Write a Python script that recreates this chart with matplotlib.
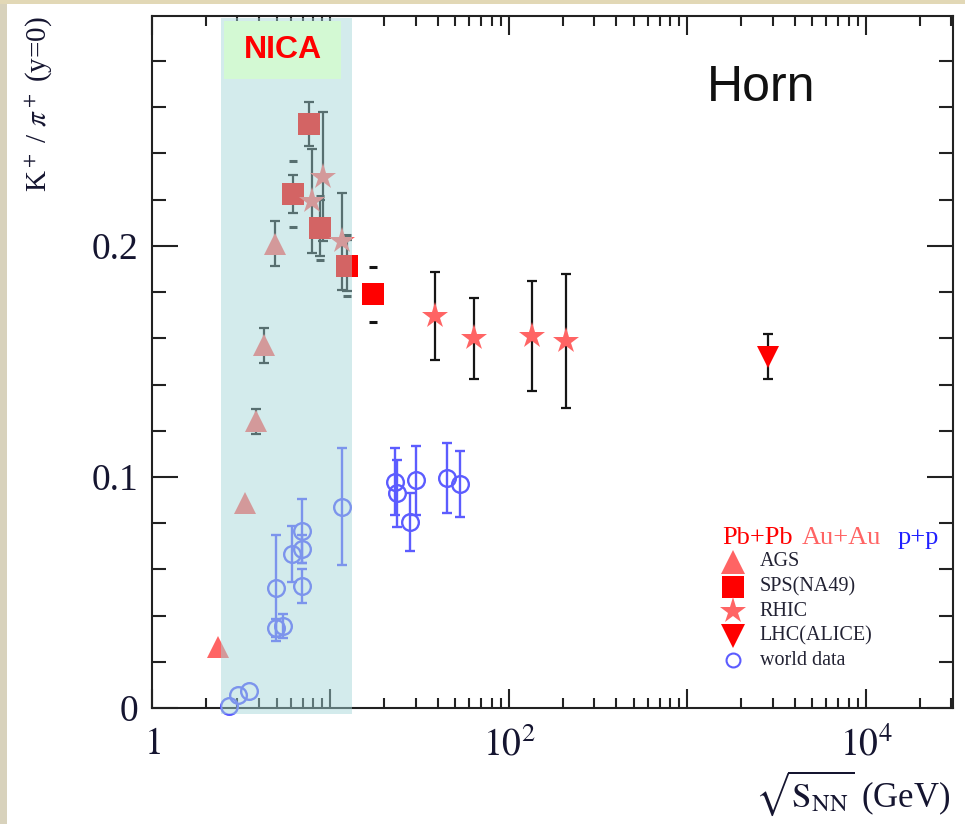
import numpy as np
import matplotlib
matplotlib.use("Agg")
import matplotlib.pyplot as plt
from matplotlib.patches import Rectangle
from matplotlib.ticker import LogLocator, MultipleLocator, FuncFormatter

plt.rcParams['font.family'] = 'serif'
plt.rcParams['font.serif'] = ['Liberation Serif', 'DejaVu Serif']
plt.rcParams['mathtext.fontset'] = 'stix'

# ---------------------------------------------------------------------------
# data: sqrt(s_NN) [GeV], K+/pi+ ratio, errors
# ---------------------------------------------------------------------------
ags_x = [2.34, 3.32, 3.83, 4.24, 4.89]
ags_y = [0.0264, 0.0887, 0.124, 0.157, 0.201]
ags_err = [0.0, 0.0, 0.0055, 0.0075, 0.0097]

sps_x = [6.19, 7.61, 8.73, 12.3, 17.4]
sps_y = [0.2224, 0.2527, 0.2077, 0.1915, 0.179]
sps_err = [0.0082, 0.0095, 0.012, 0.011, 0.0]
sps_sys = [0.0144, 0.0, 0.014, 0.013, 0.012]

rhic_x = [7.85, 9.04, 11.55, 38.5, 63.7, 134.6, 208.0]
rhic_y = [0.2195, 0.230, 0.2019, 0.1697, 0.160, 0.161, 0.159]
rhic_err = [0.0225, 0.028, 0.021, 0.019, 0.0175, 0.0236, 0.029]

lhc_x = [2825.0]
lhc_y = [0.152]
lhc_err = [0.0097]

pp_x = [2.70, 3.03, 3.49, 4.95, 4.95, 5.42, 6.09, 6.92, 6.92, 6.92,
        11.6, 23.0, 23.6, 27.9, 30.1, 45.0, 53.1]
pp_y = [0.001, 0.0056, 0.0074, 0.052, 0.0346, 0.0355, 0.0667, 0.0766,
        0.0688, 0.0528, 0.0872, 0.098, 0.093, 0.0805, 0.0985, 0.0996, 0.097]
pp_err = [0.0, 0.0, 0.0, 0.023, 0.004, 0.005, 0.012, 0.014, 0.006, 0.0073,
          0.0253, 0.0145, 0.0145, 0.0125, 0.015, 0.0152, 0.0143]

nica_range = [2.436, 13.14]   # GeV, shaded NICA energy range

legend_labels = ['AGS', 'SPS(NA49)', 'RHIC', 'LHC(ALICE)', 'world data']

RED = '#ff0000'
SALMON = '#ff6464'
BLUE = '#5c5cff'
BAR = '#151515'
TXT = '#151530'


def bars(ax, x, y, err, color, lw=1.6, cap=3.5):
    x, y, err = np.asarray(x), np.asarray(y), np.asarray(err)
    m = err > 0
    ax.errorbar(x[m], y[m], yerr=err[m], fmt='none', ecolor=color,
                elinewidth=lw, capsize=cap, capthick=lw, zorder=2)


fig = plt.figure(figsize=(9.65, 8.24), dpi=100)
# slide background strips
fig.patches.append(Rectangle((0, 0), 0.0075, 1, transform=fig.transFigure,
                             facecolor='#d8d2bc', lw=0, zorder=0))
fig.patches.append(Rectangle((0, 0.995), 1, 0.005, transform=fig.transFigure,
                             facecolor='#e2d8b6', lw=0, zorder=0))
ax = fig.add_axes([0.1575, 0.1408, 0.8300, 0.8398])

# error bars
bars(ax, ags_x, ags_y, ags_err, BAR)
bars(ax, sps_x, sps_y, sps_err, BAR)
bars(ax, rhic_x, rhic_y, rhic_err, BAR)
bars(ax, lhc_x, lhc_y, lhc_err, BAR)
bars(ax, pp_x, pp_y, pp_err, BLUE, lw=1.7)
# systematic brackets (caps only)
sx, sy, ss = np.asarray(sps_x), np.asarray(sps_y), np.asarray(sps_sys)
ms_ = ss > 0
ax.errorbar(sx[ms_], sy[ms_], yerr=ss[ms_], fmt='none', ecolor=BAR,
            elinewidth=0, capsize=3, capthick=2.2, zorder=2)

# markers
ax.plot(ags_x, ags_y, '^', color=SALMON, ms=16, mew=0, zorder=3, clip_on=False)
ax.plot(sps_x, sps_y, 's', color=RED, ms=16, mew=0, zorder=3)
ax.plot(rhic_x, rhic_y, '*', color=SALMON, ms=20, mew=0, zorder=3)
ax.plot(lhc_x, lhc_y, 'v', color=RED, ms=16, mew=0, zorder=3)
ax.plot(pp_x, pp_y, 'o', mfc='none', mec=BLUE, ms=12, mew=1.7, zorder=3,
        clip_on=False)

# axes
ax.set_xscale('log')
ax.set_xlim(1, 3.07e4)
ax.set_ylim(0, 0.2995)
ax.xaxis.set_major_locator(LogLocator(base=10, numticks=10))
ax.xaxis.set_minor_locator(LogLocator(base=10, subs=np.arange(2, 10), numticks=100))
ax.xaxis.set_major_formatter(FuncFormatter(
    lambda v, p: '' if round(np.log10(v)) % 2 else
    ('$1$' if v == 1 else r'$10^{%d}$' % round(np.log10(v)))))
ax.yaxis.set_major_locator(MultipleLocator(0.1))
ax.yaxis.set_minor_locator(MultipleLocator(0.02))
ax.yaxis.set_major_formatter(FuncFormatter(lambda v, p: '0' if v == 0 else f'{v:.1f}'))

ax.tick_params(axis='both', which='both', direction='in', top=True, right=True,
               width=1.5, color='#222222', labelsize=27, labelcolor=TXT)
ax.tick_params(axis='y', which='major', length=19, pad=10)
ax.tick_params(axis='y', which='minor', length=10)
ax.tick_params(axis='x', which='major', length=14, pad=14)
ax.tick_params(axis='x', which='minor', length=7)
for s in ax.spines.values():
    s.set_linewidth(1.5)
    s.set_color('#222222')

ax.set_xlabel(r'$\sqrt{\mathrm{S}_{\mathrm{NN}}}$ (GeV)', fontsize=25, color=TXT, loc='right')
ax.xaxis.set_label_coords(0.997, -0.088)
ax.xaxis.label.set_va('top')
ax.set_ylabel(r'K$^+$ / $\pi^+$ (y=0)', fontsize=21, color=TXT, loc='top')
ax.yaxis.set_label_coords(-0.121, 1.0)

# NICA band overlays everything
ax.add_patch(Rectangle((nica_range[0], -0.0025), nica_range[1] - nica_range[0], 0.301,
                       facecolor='#a2d5d7', alpha=0.47, lw=0, zorder=10, clip_on=False))
ax.add_patch(Rectangle((0.0899, 0.909), 0.146, 0.0838, transform=ax.transAxes,
                       facecolor='#d3f9d3', lw=0, zorder=11))
ax.text(0.163, 0.951, 'NICA', transform=ax.transAxes, ha='center', va='center',
        fontsize=23, fontweight='bold', color=RED, family='Liberation Sans', zorder=12)

ax.text(0.760, 0.896, 'Horn', transform=ax.transAxes, ha='center', va='center',
        fontsize=36, color='#111111', family='Liberation Sans')

# legend
hx = [0.7116, 0.8115, 0.9313]
for t, c, x in zip(['Pb+Pb', 'Au+Au', 'p+p'], [RED, SALMON, '#2020ff'], hx):
    ax.text(x, 0.2457, t, transform=ax.transAxes, ha='left', va='center',
            fontsize=19, color=c)
leg_style = [dict(marker='^', color=SALMON, ms=17, mew=0),
             dict(marker='s', color=RED, ms=16, mew=0),
             dict(marker='*', color=SALMON, ms=20, mew=0),
             dict(marker='v', color=RED, ms=17, mew=0),
             dict(marker='o', mfc='none', mec=BLUE, ms=10, mew=1.5)]
for i, (lab, st) in enumerate(zip(legend_labels, leg_style)):
    yy = 0.211 - i * 0.0355
    ax.plot([0.7253], [yy], transform=ax.transAxes, ls='none', clip_on=False, **st)
    ax.text(0.759, yy, lab, transform=ax.transAxes, ha='left', va='center',
            fontsize=14.5, color='#222233')

fig.savefig('out.png', dpi=100)
